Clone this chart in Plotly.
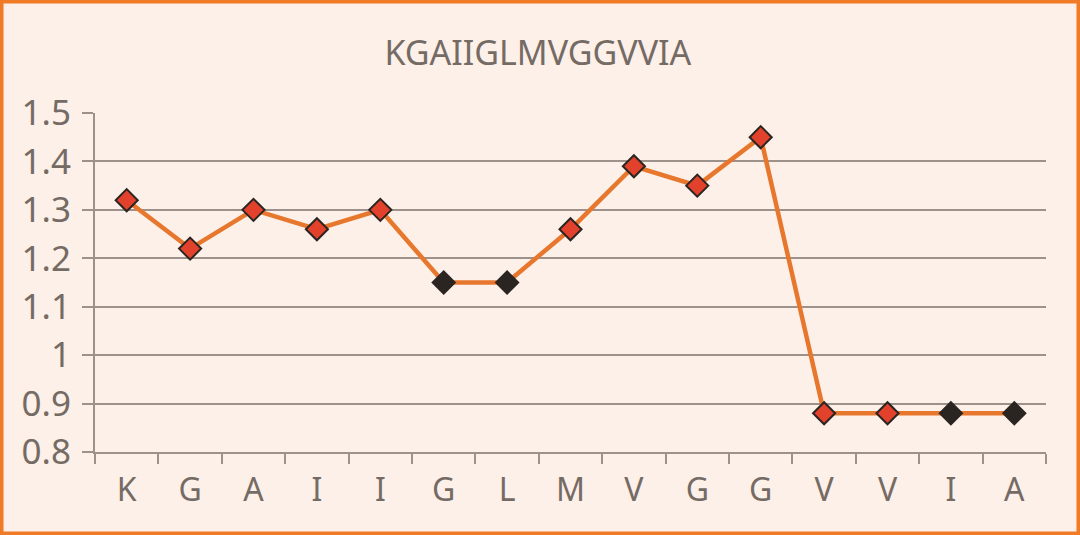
import plotly.graph_objects as go

categories = ["K", "G", "A", "I", "I", "G", "L", "M", "V", "G", "G", "V", "V", "I", "A"]
values = [1.32, 1.22, 1.30, 1.26, 1.30, 1.15, 1.15, 1.26, 1.39, 1.35, 1.45, 0.88, 0.88, 0.88, 0.88]
highlight = [False, False, False, False, False, True, True, False, False, False, False, False, False, True, True]
title_text = "KGAIIGLMVGGVVIA"

RED = "#e2422b"
DARK = "#2b2522"
marker_colors = [DARK if h else RED for h in highlight]

x = list(range(len(categories)))
fig = go.Figure()
fig.add_trace(go.Scatter(
    x=x, y=values, mode="lines+markers",
    line=dict(color="#e8772e", width=4.5),
    marker=dict(symbol="diamond", size=17, color=marker_colors,
                line=dict(color="#2b2522", width=2)),
    hoverinfo="x+y", showlegend=False,
))

grid = "#9d928b"
text = "#756b65"
L, R, T, B = 95, 34, 113, 83
fig.update_layout(
    width=1080, height=535,
    margin=dict(l=L, r=R, t=T, b=B),
    paper_bgcolor="#fdf0e8", plot_bgcolor="#fdf0e8",
    title=dict(text=title_text, x=0.498, xanchor="center", y=0.9, yanchor="middle",
               font=dict(family="Noto Sans", size=34, color=text)),
    font=dict(family="Noto Sans", color=text),
    xaxis=dict(
        tickmode="array", tickvals=x, ticktext=categories,
        range=[-0.5, len(categories) - 0.5],
        showgrid=False, showline=True, linecolor=grid, linewidth=2,
        ticks="", ticklabelstandoff=9,
        tickfont=dict(size=32, color=text), zeroline=False,
        minor=dict(tick0=-0.5, dtick=1, ticks="outside", ticklen=10,
                   tickwidth=2, tickcolor=grid, showgrid=False),
    ),
    yaxis=dict(
        range=[0.8, 1.5], dtick=0.1, tick0=0.8,
        showgrid=True, gridcolor=grid, gridwidth=2,
        showline=True, linecolor=grid, linewidth=2,
        ticks="outside", ticklen=11, tickwidth=2, tickcolor=grid,
        tickfont=dict(size=35, color=text), zeroline=False,
        ticklabelstandoff=4,
    ),
)
pw, ph = 1080 - L - R, 535 - T - B
fig.add_shape(type="rect", xref="paper", yref="paper",
              x0=-(L - 1.5) / pw, x1=1 + (R - 1.5) / pw,
              y0=-(B - 1.5) / ph, y1=1 + (T - 1.5) / ph,
              line=dict(color="#f07a26", width=4), layer="above")
fig.write_html("out.html", config={"displayModeBar": False},
               post_script="document.body.style.margin='0';document.body.style.overflow='hidden';")
